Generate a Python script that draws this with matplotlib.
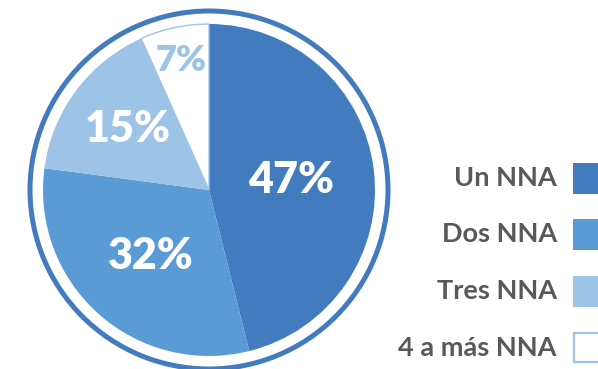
import numpy as np
import matplotlib
matplotlib.use("Agg")
import matplotlib.pyplot as plt
from matplotlib.patches import Circle, Rectangle

# --- data (slice shares, labels as printed) ---
categories = ["Un NNA", "Dos NNA", "Tres NNA", "4 a más NNA"]
shares = [46.1, 31.0, 16.2, 6.7]
pct_labels = ["47%", "32%", "15%", "7%"]

# --- style ---
colors = ["#427BBE", "#5B9BD5", "#9DC3E6", "#FFFFFF"]
ring_color = "#427BBE"
light_edge = "#9DC3E6"
text_grey = "#595959"
label_colors = ["white", "white", "white", "#9DC3E6"]
label_sizes = [31, 31, 31, 26]
label_dist = [0.50, 0.53, 0.61, 0.80]

W, H = 598, 369
fig = plt.figure(figsize=(W / 100, H / 100), dpi=100)
ax = fig.add_axes([0, 0, 1, 1])

cx, cy, r = 209, H - 190, 166
wedges, _ = ax.pie(shares, colors=colors, startangle=90, counterclock=False,
                   center=(cx, cy), radius=r,
                   wedgeprops=dict(linewidth=0))
wedges[3].set_edgecolor(light_edge)
wedges[3].set_linewidth(1.0)

# outer ring
ax.add_patch(Circle((cx, cy), 179, fill=False, ec=ring_color, lw=3.6))

font = ["Lato", "DejaVu Sans"]
for w, lab, col, fs, d in zip(wedges, pct_labels, label_colors, label_sizes, label_dist):
    ang = np.deg2rad((w.theta1 + w.theta2) / 2)
    ax.text(cx + d * r * np.cos(ang), cy + d * r * np.sin(ang), lab,
            ha="center", va="center", color=col, fontsize=fs,
            fontweight="heavy", family=font)

# legend on the right, text then square
y0, step = H - 178, 56.5
for i, (cat, col) in enumerate(zip(categories, colors)):
    y = y0 - i * step
    ax.text(557, y, cat, ha="right", va="center", color=text_grey,
            fontsize=19.5, fontweight="bold", family=font)
    if col.upper() == "#FFFFFF":
        ax.add_patch(Rectangle((574, y - 14.5), 40, 29, fc="white",
                               ec=light_edge, lw=1.6))
    else:
        ax.add_patch(Rectangle((573, y - 15.5), 40, 31, fc=col, ec="none"))

ax.set_xlim(0, W)
ax.set_ylim(0, H)
ax.set_aspect("auto")
ax.axis("off")

fig.savefig("out.png", dpi=100)
